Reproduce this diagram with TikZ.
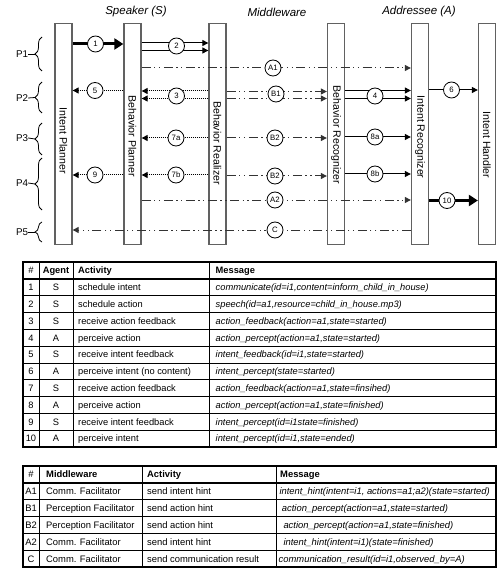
\documentclass[tikz,border=0pt]{standalone}
\usepackage{fontspec}
\setmainfont{Liberation Sans}
\usetikzlibrary{arrows.meta,decorations.pathreplacing}
\newcommand{\trowA}[5]{%
  \node[tcellA,anchor=base] (ta#1n) at (31,{279+(#1-0.5)*16.8+3.3}) {#2};
  \node[tcellA,anchor=base] (ta#1g) at (56,{279+(#1-0.5)*16.8+3.3}) {#3};
  \node[tcellA,anchor=base west] (ta#1a) at (78,{279+(#1-0.5)*16.8+3.3}) {#4};
  \node[tcellA,anchor=base west] (ta#1m) at (215.5,{279+(#1-0.5)*16.8+3.3}) {\itshape #5};
}
\newcommand{\trowB}[6]{%
  \node[tcellB,anchor=base] (tb#1n) at (31,{483+(#1-0.5)*16.8+3.4}) {#2};
  \node[tcellB,anchor=base west] (tb#1w) at (46,{483+(#1-0.5)*16.8+3.4}) {#3};
  \node[tcellB,anchor=base west] (tb#1a) at (147,{483+(#1-0.5)*16.8+3.4}) {#4};
  \node[tcellB,anchor=base west] (tb#1m) at (#5,{483+(#1-0.5)*16.8+3.4}) {\itshape #6};
}
\begin{document}
\begin{tikzpicture}[x=1pt,y=-1pt,
  lifebox/.style={draw=black!62, line width=1.3pt, minimum width=17pt, minimum height=221pt, inner sep=0pt},
  lifelabel/.style={rotate=-90, inner sep=0pt, font=\fontsize{10.6}{12}\selectfont},
  hdr/.style={inner sep=0pt, font=\fontsize{11.5}{13}\selectfont\itshape},
  plab/.style={inner sep=0pt, font=\fontsize{9.8}{11}\selectfont},
  num/.style={circle, draw=black, line width=0.8pt, fill=white, minimum size=16pt, inner sep=0pt, font=\fontsize{7.8}{9}\selectfont},
  thickarr/.style={line width=3pt, -{Triangle[length=9pt,width=11pt]}},
  solidarr/.style={line width=1pt, -{Triangle[length=6pt,width=6pt]}},
  dotarr/.style={line width=1pt, dash pattern=on 1pt off 1pt, -{Triangle[length=6pt,width=6pt]}},
  hintarr/.style={line width=1pt, draw=black!80, dash pattern=on 9pt off 3.5pt on 1.3pt off 3.5pt on 1.3pt off 3.5pt, -{Triangle[length=6pt,width=6pt]}},
  brc/.style={line width=0.8pt, decorate, decoration={brace, amplitude=7pt}},
  tout/.style={line width=1.2pt},
  tin/.style={line width=0.8pt},
  tcellA/.style={inner sep=0pt, font=\fontsize{9.3}{11}\selectfont},
  tcellB/.style={inner sep=0pt, font=\fontsize{9.4}{11}\selectfont},
]
\useasboundingbox (0,0) rectangle (497,569);

% headers
\node[hdr] (hs) at (136,12) {Speaker (S)};
\node[hdr] (hm) at (277,12) {Middleware};
\node[hdr] (ha) at (419,12) {Addressee (A)};

% lifelines
\node[lifebox] (ip) at (63.5,133.7) {};
\node[lifebox] (bp) at (132.5,133.7) {};
\node[lifebox] (br) at (217.5,133.7) {};
\node[lifebox] (bq) at (336,133.7) {};
\node[lifebox] (ir) at (420,133.7) {};
\node[lifebox] (ih) at (487,133.7) {};
\node[lifelabel] (lip) at (63.5,141) {Intent Planner};
\node[lifelabel] (lbp) at (132.5,136) {Behavior Planner};
\node[lifelabel] (lbr) at (217.5,143) {Behavior Realizer};
\node[lifelabel] (lbq) at (336,135) {Behavior Recognizer};
\node[lifelabel] (lir) at (420,137) {Intent Recognizer};
\node[lifelabel] (lih) at (487,145) {Intent Handler};

% phase braces
\foreach \p/\a/\b/\m in {1/37/71/54, 2/82/113/98, 3/123/155/138, 4/158/210/183, 5/222/242/232} {
  \node[plab] (p\p) at (22,\m) {P\p};
  \coordinate (t\p) at (35,{(\a+\b)/2});
  \draw[brc] (42,\b) -- (42,\a);
  \draw[line width=0.8pt] (p\p.east) -- (t\p);
}

% messages
\draw[thickarr] (ip.east |- 0,44) -- (bp.west |- 0,44);
\node[num] (c1) at (95.5,44) {1};

\draw[solidarr] (bp.east |- 0,43) -- (br.west |- 0,43);
\draw[solidarr] (bp.east |- 0,50.5) -- (br.west |- 0,50.5);
\node[num] (c2) at (176.5,46) {2};

\draw[hintarr] (bp.east |- 0,68) -- (ir.west |- 0,68);
\node[num] (ca1) at (273,68) {A1};

\draw[dotarr] (bp.west |- 0,90.5) -- (ip.east |- 0,90.5);
\node[num] (c5) at (95,90.5) {5};

\draw[dotarr] (br.west |- 0,91) -- (bp.east |- 0,91);
\draw[dotarr] (br.west |- 0,98.5) -- (bp.east |- 0,98.5);
\node[num] (c3) at (176.5,96) {3};

\draw[hintarr] (br.east |- 0,91.5) -- (bq.west |- 0,91.5);
\draw[hintarr] (br.east |- 0,98.5) -- (bq.west |- 0,98.5);
\node[num] (cb1) at (276,94) {B1};

\draw[solidarr] (bq.east |- 0,90.5) -- (ir.west |- 0,90.5);
\draw[solidarr] (bq.east |- 0,98.5) -- (ir.west |- 0,98.5);
\node[num] (c4) at (375,96) {4};

\draw[solidarr] (ir.east |- 0,90) -- (ih.west |- 0,90);
\node[num] (c6) at (451.5,90) {6};

\draw[dotarr] (br.west |- 0,138) -- (bp.east |- 0,138);
\node[num] (c7a) at (176,138) {7a};
\draw[hintarr] (br.east |- 0,138) -- (bq.west |- 0,138);
\node[num] (cb2) at (275,138) {B2};
\draw[solidarr] (bq.east |- 0,137) -- (ir.west |- 0,137);
\node[num] (c8a) at (375,137) {8a};

\draw[dotarr] (bp.west |- 0,175) -- (ip.east |- 0,175);
\node[num] (c9) at (95,175) {9};
\draw[dotarr] (br.west |- 0,175) -- (bp.east |- 0,175);
\node[num] (c7b) at (176,175) {7b};
\draw[hintarr] (br.east |- 0,176) -- (bq.west |- 0,176);
\node[num] (cb2b) at (275,176) {B2};
\draw[solidarr] (bq.east |- 0,174) -- (ir.west |- 0,174);
\node[num] (c8b) at (375,174) {8b};

\draw[hintarr] (bp.east |- 0,200) -- (ir.west |- 0,200);
\node[num] (ca2) at (275,200) {A2};
\draw[thickarr] (ir.east |- 0,200.5) -- (ih.west |- 0,200.5);
\node[num] (c10) at (447,200.5) {10};

\draw[hintarr] (ir.west |- 0,230) -- (ip.east |- 0,230);
\node[num] (cc) at (275,230) {C};

% table 1
\draw[tout] (23,262) rectangle (496,447);
\draw[tout] (23,279) -- (496,279);
\foreach \k in {1,...,9} \draw[tin] (23,{279+\k*16.8}) -- (496,{279+\k*16.8});
\foreach \x in {39,73,209} \draw[tin] (\x,262) -- (\x,447);
\node[tcellA,anchor=base] (tah1) at (31,273.8) {\#};
\node[tcellA,anchor=base] (tah2) at (56,273.8) {\bfseries Agent};
\node[tcellA,anchor=base west] (tah3) at (78,273.8) {\bfseries Activity};
\node[tcellA,anchor=base west] (tah4) at (215.5,273.8) {\bfseries Message};
\trowA{1}{1}{S}{schedule intent}{communicate(id=i1,content=inform\_child\_in\_house)}
\trowA{2}{2}{S}{schedule action}{speech(id=a1,resource=child\_in\_house.mp3)}
\trowA{3}{3}{S}{receive action feedback}{action\_feedback(action=a1,state=started)}
\trowA{4}{4}{A}{perceive action}{action\_percept(action=a1,state=started)}
\trowA{5}{5}{S}{receive intent feedback}{intent\_feedback(id=i1,state=started)}
\trowA{6}{6}{A}{perceive intent (no content)}{intent\_percept(state=started)}
\trowA{7}{7}{S}{receive action feedback}{action\_feedback(action=a1,state=finsihed)}
\trowA{8}{8}{A}{perceive action}{action\_percept(action=a1,state=finished)}
\trowA{9}{9}{S}{receive intent feedback}{intent\_percept(id=i1state=finished)}
\trowA{10}{10}{A}{perceive intent}{intent\_percept(id=i1,state=ended)}

% table 2
\draw[tout] (23,466) rectangle (496,567);
\draw[tout] (23,483) -- (496,483);
\foreach \k in {1,...,4} \draw[tin] (23,{483+\k*16.8}) -- (496,{483+\k*16.8});
\foreach \x in {39,142,276} \draw[tin] (\x,466) -- (\x,567);
\node[tcellB,anchor=base] (tbh1) at (31,477.9) {\#};
\node[tcellB,anchor=base west] (tbh2) at (46,477.9) {\bfseries Middleware};
\node[tcellB,anchor=base west] (tbh3) at (147,477.9) {\bfseries Activity};
\node[tcellB,anchor=base west] (tbh4) at (280,477.9) {\bfseries Message};
\trowB{1}{A1}{Comm. Facilitator}{send intent hint}{279.3}{intent\_hint(intent=i1, actions=a1;a2)(state=started)}
\trowB{2}{B1}{Perception Facilitator}{send action hint}{281.7}{action\_percept(action=a1,state=started)}
\trowB{3}{B2}{Perception Facilitator}{send action hint}{283.3}{action\_percept(action=a1,state=finished)}
\trowB{4}{A2}{Comm. Facilitator}{send intent hint}{283.3}{intent\_hint(intent=i1)(state=finished)}
\trowB{5}{C}{Comm. Facilitator}{send communication result}{278.5}{communication\_result(id=i1,observed\_by=A)}
\end{tikzpicture}
\end{document}
